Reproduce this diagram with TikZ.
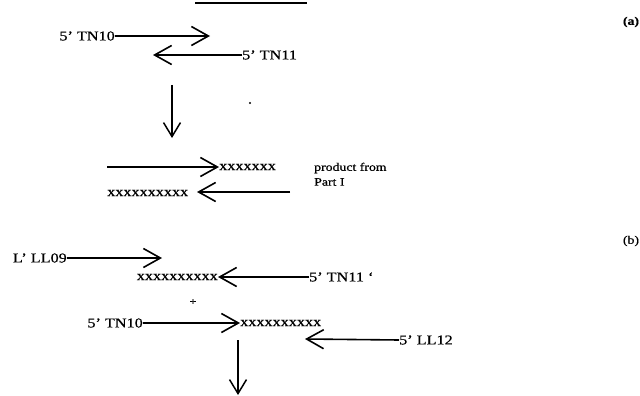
\documentclass[tikz,border=0pt]{standalone}
\usepackage{fontspec}
\setmainfont{Liberation Serif}[FakeStretch=1.2,FakeBold=0.6]
\usetikzlibrary{arrows.meta}
\begin{document}
\begin{tikzpicture}[x=1pt,y=-1pt,
  lbl/.style={inner sep=0pt,font=\fontsize{13.5}{15}\selectfont},
  small/.style={inner sep=0pt,font=\fontsize{11.5}{13}\selectfont},
  strand/.style={line width=1.6pt,-{Straight Barb[length=17pt,width=19pt,line width=1.6pt]}},
  down/.style={line width=1.1pt,-{Straight Barb[length=14pt,width=17pt,line width=1.5pt]}}]
\useasboundingbox (0,0) rectangle (640,396);
% heading underline (cut off)
\coordinate (ul1) at (195,3);
\coordinate (ul2) at (307,3);
\draw[line width=1.4pt] (ul1) -- (ul2);
% ---- (a)
\node[lbl,font=\bfseries\fontsize{11.5}{13}\selectfont] (la) at (631,22) {(a)};
\node[lbl,anchor=east] (tn10a) at (115,36) {5' TN10};
\coordinate (t1) at (210,36);
\draw[strand] (tn10a.east) -- (t1);
\node[lbl,anchor=west] (tn11a) at (242,55) {5' TN11};
\coordinate (t2) at (153,55);
\draw[strand] (tn11a.west) -- (t2);
\coordinate (d1s) at (172,85);
\coordinate (d1e) at (172,138);
\draw[down] (d1s) -- (d1e);
\fill (250,103) circle (1.1);
% product from Part I
\node[lbl,anchor=west] (xs1) at (219,167) {xxxxxxx};
\coordinate (s3) at (107,167);
\draw[strand] (s3) -- (xs1.west);
\node[lbl,anchor=west] (xs2) at (107,193) {xxxxxxxxxx};
\coordinate (s4) at (290,192);
\coordinate (t4) at (197,192);
\draw[strand] (s4) -- (t4);
\node[small,anchor=west] (prod) at (314,168) {product from};
\node[small,anchor=west] (part) at (314,182) {Part I};
% ---- (b)
\node[lbl,font=\fontsize{11.5}{13}\selectfont] (lb) at (631,241) {(b)};
\node[lbl,anchor=east] (ll09) at (67,258) {L' LL09};
\coordinate (t5) at (162,258);
\draw[strand] (ll09.east) -- (t5);
\node[lbl,anchor=east] (xs3) at (218,277) {xxxxxxxxxx};
\node[lbl,anchor=west] (tn11b) at (309,277) {5' TN11 `};
\draw[strand] (tn11b.west) -- (xs3.east);
\node[lbl,font=\fontsize{10}{11}\selectfont] (plus) at (193,302) {+};
\node[lbl,anchor=east] (tn10b) at (143,323) {5' TN10};
\node[lbl,anchor=west] (xs4) at (240,323) {xxxxxxxxxx};
\draw[strand] (tn10b.east) -- (xs4.west);
\node[lbl,anchor=west] (ll12) at (399,340) {5' LL12};
\coordinate (t6) at (305,339);
\draw[strand] (ll12.west) -- (t6);
\coordinate (d2s) at (238,340);
\coordinate (d2e) at (238,395);
\draw[down] (d2s) -- (d2e);
\end{tikzpicture}
\end{document}
